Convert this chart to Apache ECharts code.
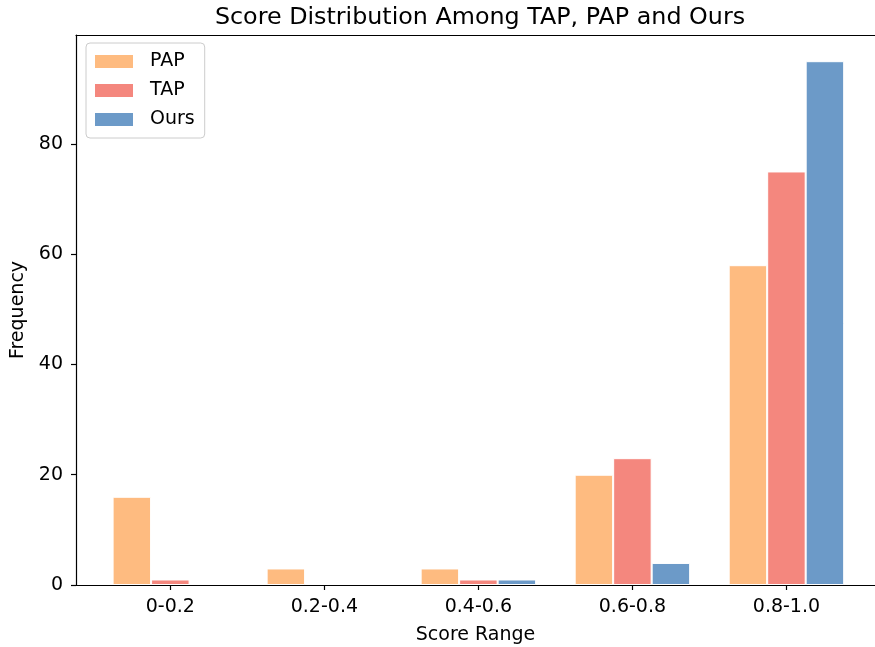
<!DOCTYPE html>
<html>
<head>
<meta charset="utf-8">
<script src="https://cdn.jsdelivr.net/npm/echarts@6/dist/echarts.min.js"></script>
<style>
    html, body { margin: 0; padding: 0; background: #fff; }
    #main { width: 875px; height: 647px; }
</style>
</head>
<body>
<div id="main"></div>
<script>
    // 数据
    var categories = ['0-0.2', '0.2-0.4', '0.4-0.6', '0.6-0.8', '0.8-1.0'];
    var papValues = [16, 3, 3, 20, 58];
    var tapValues = [1, 0, 1, 23, 75];
    var oursValues = [0, 0, 1, 4, 95];
    var yTicks = [0, 20, 40, 60, 80];
    var xTicks = [0, 1, 2, 3, 4];

    var font = 'DejaVu Sans';
    // x 轴范围：右侧边框在画面之外
    var xMin = -0.6125;
    var xMax = 4.575;

    // 把数组转成 [x, y]
    function toPoints(values) {
        var list = [];
        for (var i = 0; i < values.length; i++) {
            list.push([i, values[i]]);
        }
        return list;
    }

    function makeSeries(name, values, color) {
        return {
            name: name,
            type: 'bar',
            xAxisIndex: 0,
            data: toPoints(values),
            barWidth: 38.5,
            barGap: '0%',
            itemStyle: {color: color, borderColor: '#fff', borderWidth: 1},
            emphasis: {disabled: true}
        };
    }

    var lineStyle = {color: '#000', width: 1.2};

    var myChart = echarts.init(document.getElementById('main'), null, {renderer: 'canvas'});
    var option = {
        animation: false,
        backgroundColor: '#fff',
        title: {
            text: 'Score Distribution Among TAP, PAP and Ours',
            left: 475,
            textAlign: 'center',
            top: 1,
            textStyle: {fontFamily: font, fontSize: 23.8, fontWeight: 'normal', color: '#000'}
        },
        legend: {
            orient: 'vertical',
            left: 86,
            top: 43,
            padding: [9, 10, 9, 9],
            itemWidth: 38,
            itemHeight: 13,
            itemGap: 10,
            icon: 'rect',
            borderColor: '#cccccc',
            borderWidth: 1,
            borderRadius: 4,
            backgroundColor: 'rgba(255,255,255,0.8)',
            itemStyle: {borderWidth: 0},
            textStyle: {fontFamily: font, fontSize: 19, color: '#000', padding: [0, 0, 0, 12], lineHeight: 19},
            data: ['PAP', 'TAP', 'Ours']
        },
        grid: {
            left: 76,
            right: 0,
            top: 35,
            bottom: 62,
            show: false,
            containLabel: false,
            outerBoundsMode: 'none'
        },
        xAxis: [{
            type: 'value',
            min: xMin,
            max: xMax,
            z: 10,
            name: 'Score Range',
            nameLocation: 'middle',
            nameGap: 41,
            nameTextStyle: {fontFamily: font, fontSize: 19, color: '#000'},
            axisLine: {show: true, onZero: false, lineStyle: lineStyle},
            axisTick: {show: true, length: 5, lineStyle: lineStyle, customValues: xTicks},
            axisLabel: {
                fontFamily: font, fontSize: 19, color: '#000', margin: 13,
                customValues: xTicks,
                formatter: function (v) {
                    return categories[Math.round(v)];
                }
            },
            splitLine: {show: false}
        }, {
            // 顶部边框
            type: 'value',
            position: 'top',
            min: xMin,
            max: xMax,
            z: 10,
            axisLine: {show: true, onZero: false, lineStyle: lineStyle},
            axisTick: {show: false},
            axisLabel: {show: false},
            splitLine: {show: false}
        }],
        yAxis: {
            type: 'value',
            min: 0,
            max: 99.75,
            z: 10,
            name: 'Frequency',
            nameLocation: 'middle',
            nameGap: 48,
            nameTextStyle: {fontFamily: font, fontSize: 19, color: '#000'},
            axisLine: {show: true, onZero: false, lineStyle: lineStyle},
            axisTick: {show: true, length: 5, lineStyle: lineStyle, customValues: yTicks},
            axisLabel: {fontFamily: font, fontSize: 19, color: '#000', margin: 13, customValues: yTicks},
            splitLine: {show: false}
        },
        series: [
            makeSeries('PAP', papValues, '#FEBB80'),
            makeSeries('TAP', tapValues, '#F4877E'),
            makeSeries('Ours', oursValues, '#6C9AC8')
        ]
    };
    myChart.setOption(option);
</script>
</body>
</html>
